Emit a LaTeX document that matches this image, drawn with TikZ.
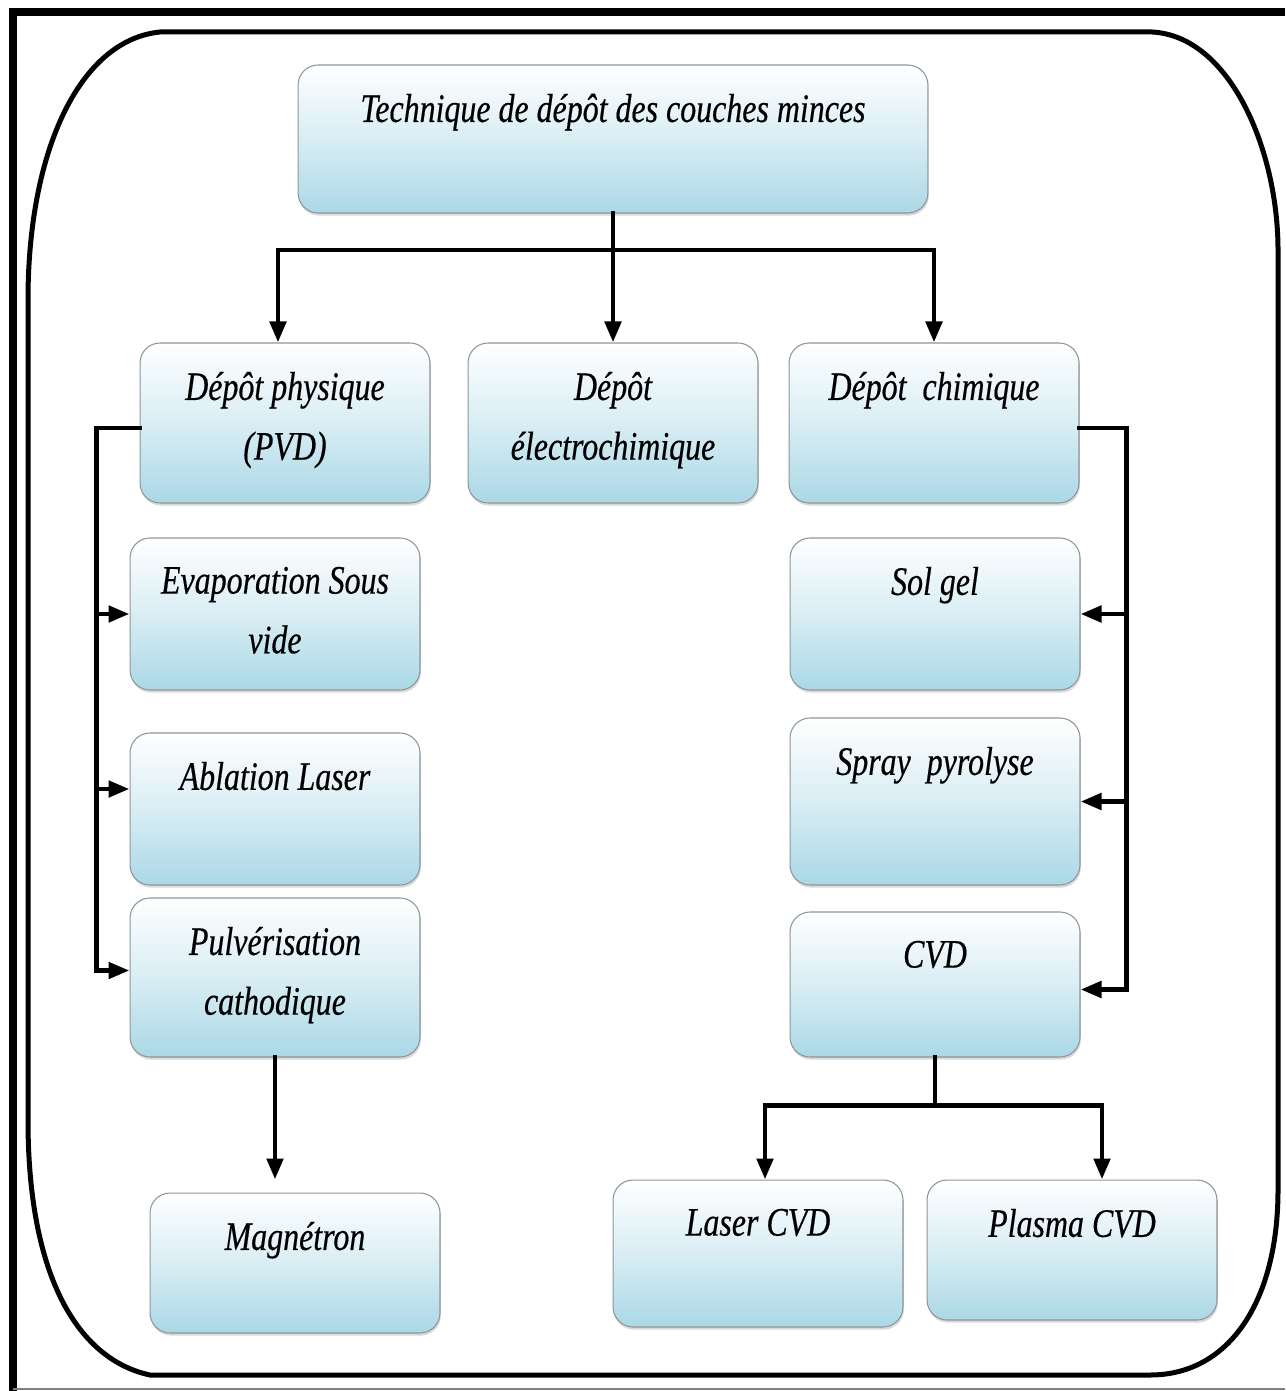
\documentclass[tikz,border=0pt]{standalone}
\usepackage{fontspec}
\newfontfamily\boxfont[FakeStretch=0.79, FakeBold=0.4]{Liberation Serif}
\usepackage{tikz}
\usetikzlibrary{arrows.meta,shapes,positioning,shadows}
\definecolor{boxblue}{RGB}{170,216,230}
\definecolor{boxedge}{RGB}{140,150,155}
\tikzstyle{tbox} = [draw=boxedge, line width=0.6pt, rounded corners=0.4cm, top color=white, bottom color=boxblue, middle color=boxblue!45, drop shadow={shadow xshift=0.5pt, shadow yshift=-1.5pt, opacity=0.3}, minimum width=5.8cm, minimum height=3cm]
\tikzstyle{lbl} = [anchor=north, yshift=-0.58cm, inner sep=0pt, align=center, font=\boxfont\itshape\fontsize{23pt}{34pt}\selectfont]
\tikzstyle{link} = [line width=2.8pt, line cap=rect]
\tikzstyle{arrow} = [line width=2.8pt, line cap=rect, -{Triangle[length=0.42cm, width=0.32cm]}]

\begin{document}
\begin{tikzpicture}[x=0.02cm, y=-0.02cm]
\useasboundingbox (0,0) rectangle (1285,1391);

% Frames
\draw[line width=0.16cm] (13,1391) -- (13,12) -- (1285,12);
\draw[gray, line width=0.8pt] (13,1389) -- (1285,1389);
\draw[line width=0.1cm] (160,32) -- (1152,32) .. controls (1230,36) and (1278,150) .. (1278,250)
  -- (1278,1190) .. controls (1278,1300) and (1230,1375) .. (1150,1375)
  -- (150,1375) .. controls (80,1360) and (28,1280) .. (28,1120)
  -- (28,300) .. controls (28,150) and (80,40) .. (160,32) -- cycle;

% Top level
\node[tbox, minimum width=12.6cm, minimum height=2.96cm, label={[lbl]north:Technique de dépôt des couches minces}] (tech) at (613,139) {};

% Second level
\node[tbox, minimum height=3.2cm, label={[lbl]north:Dépôt physique\\(PVD)}] (phys) at (285,423) {};
\node[tbox, minimum height=3.2cm, label={[lbl]north:Dépôt\\électrochimique}] (elec) at (613,423) {};
\node[tbox, minimum height=3.2cm, label={[lbl]north:Dépôt~~chimique}] (chim) at (934,423) {};

% Physical methods
\node[tbox, minimum height=3.04cm, label={[lbl]north:Evaporation Sous\\vide}] (evap) at (275,614) {};
\node[tbox, minimum height=3.04cm, label={[lbl]north:Ablation Laser}] (abl) at (275,809) {};
\node[tbox, minimum height=3.18cm, label={[lbl]north:Pulvérisation\\cathodique}] (pulv) at (275,977.5) {};
\node[tbox, minimum height=2.8cm, label={[lbl]north:Magnétron}] (magn) at (295,1263) {};

% Chemical methods
\node[tbox, minimum height=3.04cm, label={[lbl]north:Sol gel}] (sol) at (935,614) {};
\node[tbox, minimum height=3.34cm, label={[lbl]north:Spray~~pyrolyse}] (spray) at (935,801.5) {};
\node[tbox, minimum height=2.9cm, label={[lbl]north:CVD}] (cvd) at (935,984.5) {};
\node[tbox, minimum height=2.94cm, label={[lbl]north:Laser CVD}] (lcvd) at (758,1253.5) {};
\node[tbox, minimum height=2.8cm, label={[lbl]north:Plasma CVD}] (pcvd) at (1072,1250) {};

% Connectors from the top box
\coordinate (split) at (613,250);
\draw[link] (tech.south) -- (split);
\draw[arrow] (split) -| ([xshift=-0.14cm]phys.north);
\draw[arrow] (split) -- (elec.north);
\draw[arrow] (split) -| (chim.north);

% Left bus
\coordinate (lbus) at ([xshift=-0.86cm, yshift=-0.1cm]phys.west);
\draw[link] ([yshift=-0.1cm]phys.west) -- (lbus);
\draw[arrow] (lbus) |- (evap.west);
\draw[arrow] (lbus) |- ([yshift=0.4cm]abl.west);
\draw[arrow] (lbus) |- ([yshift=0.14cm]pulv.west);
\draw[arrow, shorten >=0.26cm] (pulv.south) -- (pulv.south |- magn.north);

% Right bus
\coordinate (rbus) at ([xshift=0.94cm, yshift=-0.1cm]chim.east);
\draw[link] ([yshift=-0.1cm]chim.east) -- (rbus);
\draw[arrow] (rbus) |- (sol.east);
\draw[arrow] (rbus) |- (spray.east);
\draw[arrow] (rbus) |- ([yshift=-0.1cm]cvd.east);

% CVD branches
\coordinate (cvdsplit) at ([yshift=-0.96cm]cvd.south);
\draw[link] (cvd.south) -- (cvdsplit);
\draw[arrow] (cvdsplit) -| ([xshift=0.14cm]lcvd.north);
\draw[arrow] (cvdsplit) -| ([xshift=0.6cm]pcvd.north);
\end{tikzpicture}
\end{document}
